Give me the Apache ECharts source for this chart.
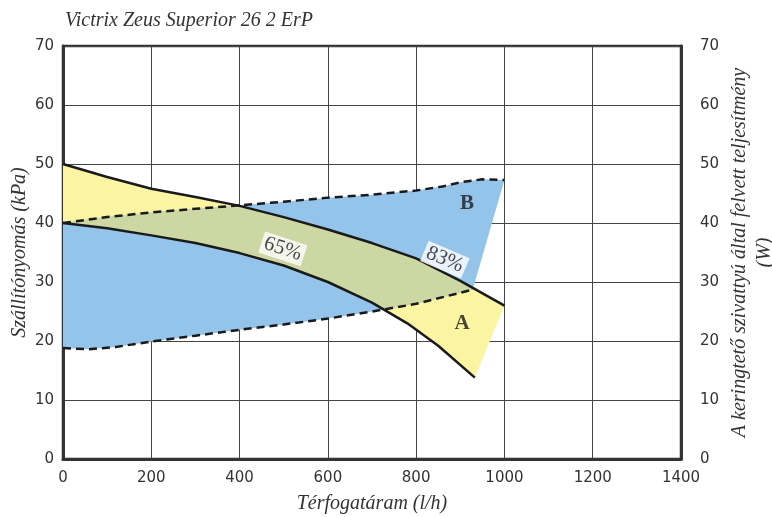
<!DOCTYPE html>
<html>
<head>
<meta charset="utf-8">
<script src="https://cdn.jsdelivr.net/npm/echarts@6/dist/echarts.min.js"></script>
<style>html,body{margin:0;padding:0;background:#fff}#c{width:772px;height:517px}</style>
</head>
<body>
<div id="c"></div>
<script>
// ---- data ----
var titleText = 'Victrix Zeus Superior 26 2 ErP';
var xName = 'Térfogatáram (l/h)';
var yNameLeft = 'Szállítónyomás (kPa)';
var yNameRight = 'A keringtető szivattyú által felvett teljesítmény\n(W)';
var xTicks = [0, 200, 400, 600, 800, 1000, 1200, 1400];
var yTicks = [0, 10, 20, 30, 40, 50, 60, 70];

// Curve A upper (max) – solid
var upperA_x = [0, 100, 200, 300, 400, 500, 600, 700, 800, 900, 1000];
var upperA_y = [50, 47.8, 45.8, 44.4, 42.9, 41.0, 38.9, 36.6, 34.0, 30.2, 26.0];
// Curve 65% lower – solid
var lowerA_x = [0, 100, 200, 300, 400, 500, 600, 700, 780, 850, 933];
var lowerA_y = [40, 39.1, 37.9, 36.6, 34.9, 32.8, 30.0, 26.5, 23.0, 19.2, 13.8];
// Curve B upper – dashed
var upperB_x = [0, 100, 200, 300, 400, 500, 600, 700, 800, 860, 900, 950, 1000];
var upperB_y = [40, 41.0, 41.8, 42.4, 43.0, 43.6, 44.3, 44.8, 45.5, 46.2, 46.9, 47.4, 47.3];
// Curve B lower – dashed
var lowerB_x = [0, 60, 120, 200, 300, 400, 500, 600, 700, 800, 928];
var lowerB_y = [18.8, 18.6, 19.0, 19.9, 20.9, 21.9, 22.8, 23.8, 25.0, 26.3, 28.7];

// labels
var labelTexts = ['65%', '83%', 'B', 'A'];
var labelX = [498, 865, 915, 904];
var labelY = [35.6, 33.8, 43.3, 22.9];

// ---- helpers ----
function pts(xs, ys) { return xs.map(function (x, i) { return [x, ys[i]]; }); }
function interp(xs, ys, x) {
  if (x <= xs[0]) return ys[0];
  for (var i = 1; i < xs.length; i++) {
    if (x <= xs[i]) { var t = (x - xs[i-1]) / (xs[i] - xs[i-1]); return ys[i-1] + t * (ys[i] - ys[i-1]); }
  }
  return ys[ys.length - 1];
}
var uA = pts(upperA_x, upperA_y), lA = pts(lowerA_x, lowerA_y);
var uB = pts(upperB_x, upperB_y), lB = pts(lowerB_x, lowerB_y);
var polyA = uA.concat(lA.slice().reverse());
var polyB = uB.concat(lB.slice().reverse());

// overlap region: top=min(uA,uB), bottom=max(lA,lB), up to end of lower B
function envelope(x1, y1, x2, y2, fn, xEnd) {
  var xs = x1.concat(x2).filter(function (x) { return x <= xEnd; });
  xs.push(xEnd);
  xs = Array.from(new Set(xs)).sort(function (a, b) { return a - b; });
  var out = [];
  for (var i = 0; i < xs.length; i++) {
    var x = xs[i];
    if (i > 0) {
      var xp = xs[i-1];
      var dp = interp(x1, y1, xp) - interp(x2, y2, xp);
      var dc = interp(x1, y1, x) - interp(x2, y2, x);
      if (dp * dc < 0) {
        var xc = xp + (x - xp) * dp / (dp - dc);
        out.push([xc, interp(x1, y1, xc)]);
      }
    }
    out.push([x, fn(interp(x1, y1, x), interp(x2, y2, x))]);
  }
  return out;
}
var xEnd = lowerB_x[lowerB_x.length - 1];
var topG = envelope(upperA_x, upperA_y, upperB_x, upperB_y, Math.min, xEnd);
var botG = envelope(lowerA_x, lowerA_y, lowerB_x, lowerB_y, Math.max, xEnd);
var polyG = topG.concat(botG.slice().reverse());

function polySeries(poly, color, z) {
  return {
    type: 'custom', data: poly, z: z, silent: true, clip: true,
    renderItem: function (params, api) {
      if (params.dataIndex !== 0) return null;
      var p = poly.map(function (d) { return api.coord(d); });
      return { type: 'polygon', shape: { points: p }, style: { fill: color, stroke: null } };
    },
    encode: { x: 0, y: 1 }
  };
}
function lineSeries(data, dashed) {
  return {
    type: 'line', data: data, showSymbol: false, z: 5, silent: true,
    lineStyle: { color: '#1a1a1a', width: 2.5, type: dashed ? [8, 5] : 'solid' }
  };
}
var serif = '"Liberation Serif", "DejaVu Serif", serif';
var sans = '"DejaVu Sans", sans-serif';

var labelData = labelTexts.map(function (t, i) { return [labelX[i], labelY[i], t]; });
var labelStyles = [
  { rotate: -18, backgroundColor: '#fff', padding: [1, 3, 0, 3], fontSize: 21, fontFamily: serif, fontWeight: 'normal' },
  { rotate: -23, backgroundColor: '#fff', padding: [1, 3, 0, 3], fontSize: 21, fontFamily: serif, fontWeight: 'normal' },
  { rotate: 0, fontSize: 21, fontFamily: serif, fontWeight: 'bold' },
  { rotate: 0, fontSize: 21, fontFamily: serif, fontWeight: 'bold' }
];

var chart = echarts.init(document.getElementById('c'));
var axisLabelStyle = { color: '#333', fontSize: 15, fontFamily: sans };
chart.setOption({
  animation: false,
  title: { text: titleText, left: 60, top: 6, textStyle: { fontFamily: serif, fontStyle: 'italic', fontWeight: 'normal', fontSize: 20, color: '#333' } },
  grid: { left: 63, right: 91, top: 46, bottom: 58, containLabel: false, outerBoundsMode: 'none', show: true, borderColor: '#333', borderWidth: 2.5, backgroundColor: 'transparent' },
  xAxis: {
    type: 'value', min: 0, max: 1400, interval: 200,
    name: xName, nameLocation: 'middle', nameGap: 35, nameMoveOverlap: false,
    nameTextStyle: { fontFamily: serif, fontStyle: 'italic', fontSize: 20, color: '#333' },
    axisLine: { show: true, lineStyle: { color: '#333', width: 3 } },
    axisTick: { show: false },
    axisLabel: Object.assign({ margin: 12, formatter: function (v) { return String(v); } }, axisLabelStyle),
    splitLine: { show: true, lineStyle: { color: '#444', width: 1 } }
  },
  yAxis: [{
    type: 'value', min: 0, max: 70, interval: 10,
    name: yNameLeft, nameLocation: 'middle', nameGap: 33, nameMoveOverlap: false,
    nameTextStyle: { fontFamily: serif, fontStyle: 'italic', fontSize: 20, color: '#333' },
    axisLine: { show: true, lineStyle: { color: '#333', width: 3 } },
    axisTick: { show: false },
    axisLabel: Object.assign({ margin: 9 }, axisLabelStyle),
    splitLine: { show: true, lineStyle: { color: '#444', width: 1 } }
  }, {
    type: 'value', min: 0, max: 70, interval: 10, position: 'right',
    name: yNameRight, nameLocation: 'middle', nameGap: 46, nameRotate: 90, nameMoveOverlap: false,
    nameTextStyle: { fontFamily: serif, fontStyle: 'italic', fontSize: 20, color: '#333', lineHeight: 25 },
    axisLine: { show: true, lineStyle: { color: '#333', width: 3 } },
    axisTick: { show: false },
    axisLabel: Object.assign({ margin: 19 }, axisLabelStyle),
    splitLine: { show: false }
  }],
  series: [
    polySeries(polyA, '#fbf4a3', 1),
    polySeries(polyB, '#94c4e9', 2),
    polySeries(polyG, '#cdd7a4', 3),
    lineSeries(uA, false),
    lineSeries(lA, false),
    lineSeries(uB, true),
    lineSeries(lB, true),
    {
      type: 'scatter', symbolSize: 0, z: 10, silent: true,
      data: labelData.map(function (d, i) {
        return { value: [d[0], d[1]], label: Object.assign({ show: true, position: 'inside', formatter: d[2], color: '#1a1a1a' }, labelStyles[i]) };
      })
    }
  ]
});
</script>
</body>
</html>
